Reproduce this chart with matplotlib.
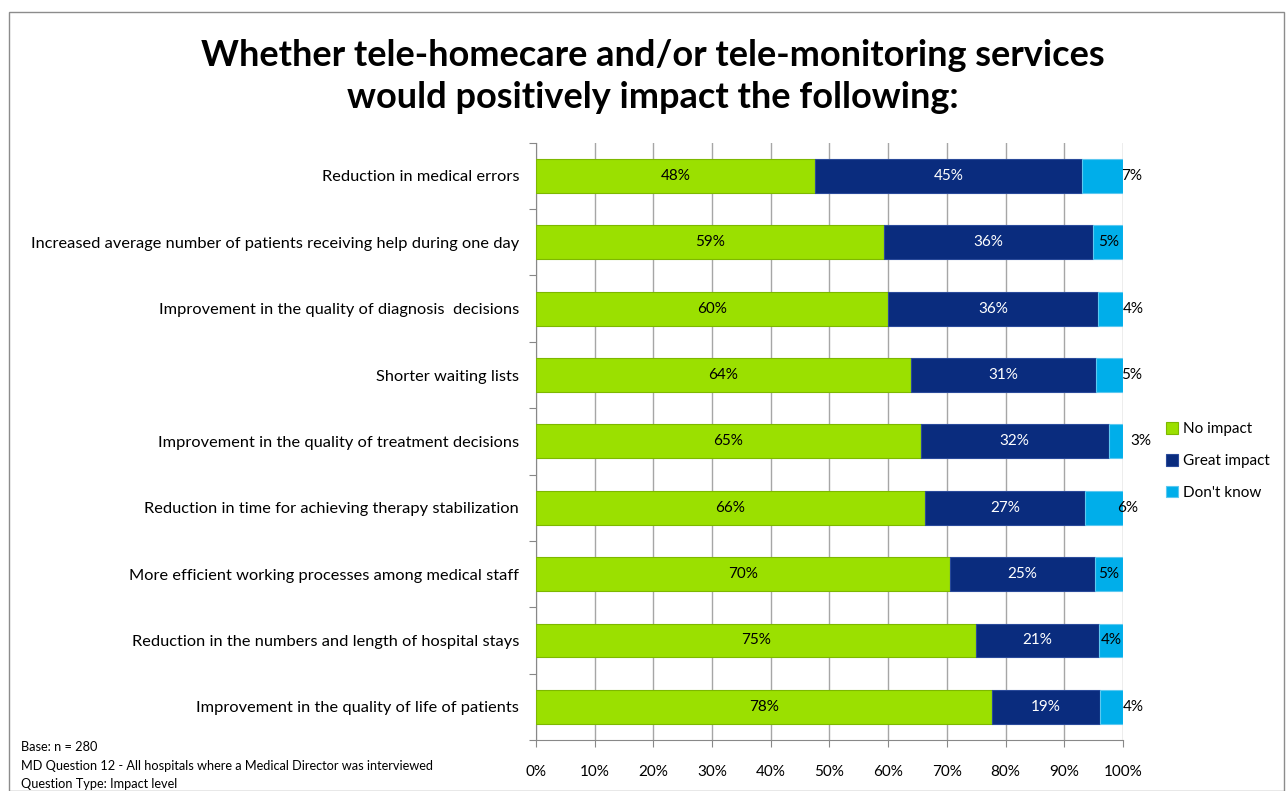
import numpy as np
import matplotlib.pyplot as plt
from matplotlib.patches import Rectangle

plt.rcParams['font.family'] = ['Lato', 'DejaVu Sans']

categories = [
    'Reduction in medical errors',
    'Increased average number of patients receiving help during one day',
    'Improvement in the quality of diagnosis  decisions',
    'Shorter waiting lists',
    'Improvement in the quality of treatment decisions',
    'Reduction in time for achieving therapy stabilization',
    'More efficient working processes among medical staff',
    'Reduction in the numbers and length of hospital stays',
    'Improvement in the quality of life of patients',
]
no_impact = [47.6, 59.3, 60.0, 63.9, 65.5, 66.2, 70.5, 75.0, 77.6]
great_impact = [45.4, 35.6, 35.7, 31.5, 32.1, 27.3, 24.7, 20.9, 18.4]
dont_know = [7.0, 5.1, 4.3, 4.6, 2.4, 6.5, 4.8, 4.1, 4.0]
no_labels = ['48%', '59%', '60%', '64%', '65%', '66%', '70%', '75%', '78%']
great_labels = ['45%', '36%', '36%', '31%', '32%', '27%', '25%', '21%', '19%']
dk_labels = ['7%', '5%', '4%', '5%', '3%', '6%', '5%', '4%', '4%']
series_names = ['No impact', 'Great impact', "Don't know"]

# where the "Don't know" labels sit (as in the source, some pushed past the bar end)
dk_label_x = [101.5, None, 101.7, 101.4, 103.0, 100.8, None, None, 101.7]

green = '#9BE000'
navy = '#0A2C7E'
cyan = '#00AEEA'

fig = plt.figure(figsize=(12.88, 7.91), dpi=100)
fig.patches.append(Rectangle((0.007, 0.0), 0.99, 0.985, transform=fig.transFigure,
                             fill=False, edgecolor='#8c8c8c', linewidth=1.0))
ax = fig.add_axes([0.416, 0.0645, 0.456, 0.755])

y = np.arange(len(categories))
h = 0.51
left2 = np.array(no_impact)
left3 = left2 + np.array(great_impact)
ax.barh(y, no_impact, height=h, color=green, edgecolor='#7DB800', linewidth=0.8, label=series_names[0], zorder=3)
ax.barh(y, great_impact, left=left2, height=h, color=navy, edgecolor='#2a4a9a', linewidth=0.8, label=series_names[1], zorder=3)
ax.barh(y, dont_know, left=left3, height=h, color=cyan, edgecolor='#5cc8f0', linewidth=0.8, label=series_names[2], zorder=3)

for i in range(len(categories)):
    ax.text(no_impact[i] / 2, y[i], no_labels[i], ha='center', va='center', fontsize=11, color='black', zorder=4)
    ax.text(left2[i] + great_impact[i] / 2, y[i], great_labels[i], ha='center', va='center', fontsize=11, color='white', zorder=4)
    lx = dk_label_x[i] if dk_label_x[i] is not None else left3[i] + dont_know[i] / 2
    ax.text(lx, y[i], dk_labels[i], ha='center', va='center', fontsize=11, color='black', zorder=4)

ax.set_xlim(0, 100)
ax.set_ylim(len(categories) - 0.5, -0.5)
ax.set_xticks(np.arange(0, 101, 10))
ax.set_xticklabels([f'{v}%' for v in range(0, 101, 10)], fontsize=11)
ax.set_yticks(np.arange(-0.5, len(categories), 1.0))
ax.set_yticklabels([])
ax.set_yticks(y, minor=True)
ax.set_yticklabels(categories, minor=True, fontsize=11.8)
ax.tick_params(axis='y', which='minor', length=0, pad=12)
ax.tick_params(axis='y', which='major', length=5, color='#888888')
ax.tick_params(axis='x', length=5, color='#888888', pad=13)
ax.grid(axis='x', color='#a6a6a6', linewidth=1.0, zorder=0)
for side in ['top', 'right']:
    ax.spines[side].set_visible(False)
ax.spines['left'].set_color('#888888')
ax.spines['bottom'].set_color('#888888')

fig.text(0.507, 0.903, 'Whether tele-homecare and/or tele-monitoring services\nwould positively impact the following:',
         ha='center', va='center', fontsize=26, fontweight='bold', linespacing=1.33)

ax.legend(loc='center left', bbox_to_anchor=(1.05, 0.467), frameon=False, fontsize=11,
          handlelength=0.8, handleheight=0.8, handletextpad=0.3, labelspacing=1.15)

fig.text(0.016, 0.055, 'Base: n = 280', fontsize=9.2, va='center')
fig.text(0.016, 0.032, 'MD Question 12 - All hospitals where a Medical Director was interviewed', fontsize=9.2, va='center')
fig.text(0.016, 0.009, 'Question Type: Impact level', fontsize=9.2, va='center')

fig.savefig('out.png', dpi=100)
